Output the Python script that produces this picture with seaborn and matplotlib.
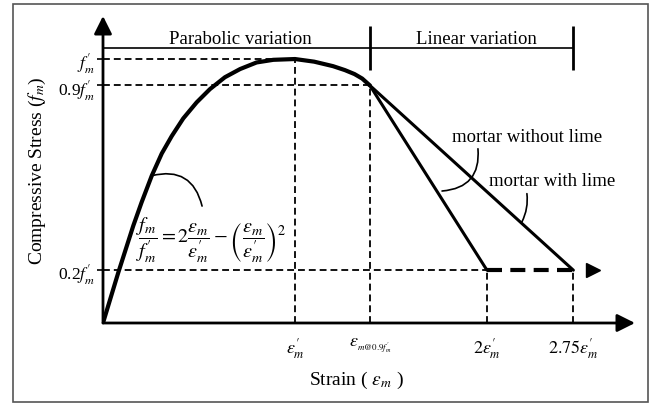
import matplotlib
matplotlib.use("Agg")
import matplotlib.pyplot as plt
from matplotlib.patches import Rectangle
import seaborn as sns

# strain in units of eps'_m, stress in units of f'_m (schematic)
curve_strain = [0.0, 0.080, 0.158, 0.201, 0.254, 0.306, 0.358, 0.418, 0.488, 0.557,
                0.635, 0.714, 0.800, 0.887, 1.0, 1.10, 1.198, 1.26, 1.31, 1.35, 1.39]
curve_stress = [0.0, 0.192, 0.369, 0.457, 0.558, 0.642, 0.708, 0.775, 0.836, 0.886,
                0.931, 0.962, 0.987, 0.997, 1.0, 0.990, 0.973, 0.958, 0.943, 0.926, 0.90]

without_lime_strain = [1.39, 2.0]
without_lime_stress = [0.90, 0.20]
with_lime_strain = [1.39, 2.45]
with_lime_stress = [0.90, 0.20]
residual_strain = [2.0, 2.48]
residual_stress = [0.20, 0.20]

eps_ticks = [1.0, 1.39, 2.0, 2.45]
eps_labels = [r"$\varepsilon^{\prime}_{m}$",
              r"$\varepsilon_{_{m@0.9f^{\prime}_{m}}}$",
              r"$2\varepsilon^{\prime}_{m}$",
              r"$2.75\varepsilon^{\prime}_{m}$"]
stress_ticks = [0.2, 0.9, 1.0]
stress_labels = [r"0.2$f^{\prime}_{m}$", r"0.9$f^{\prime}_{m}$", r"$f^{\prime}_{m}$"]

sns.set_theme(style="white")
plt.rcParams['font.family'] = ['Liberation Serif', 'DejaVu Serif']
plt.rcParams['mathtext.fontset'] = 'stix'
plt.rcParams['text.color'] = 'black'
plt.rcParams['axes.labelcolor'] = 'black'
plt.rcParams['xtick.color'] = 'black'
plt.rcParams['ytick.color'] = 'black'

fig = plt.figure(figsize=(6.54, 4.06), dpi=100)
ax = fig.add_axes([103 / 654, 82 / 406, 532 / 654, 307 / 406])
ax.set_xlim(0, 2.771)
ax.set_ylim(0, 1.163)
for s in ax.spines.values():
    s.set_visible(False)

# axes with arrows
arrow = dict(arrowstyle='-|>,head_length=0.9,head_width=0.45', lw=2, color='black',
             shrinkA=0, shrinkB=0)
ax.annotate("", xy=(1, 0), xytext=(0, 0), xycoords='axes fraction', arrowprops=arrow)
ax.annotate("", xy=(0, 1), xytext=(0, 0), xycoords='axes fraction', arrowprops=arrow)

# stress-strain curve
sns.lineplot(x=curve_strain, y=curve_stress, sort=False, color='black', lw=3, ax=ax)
sns.lineplot(x=without_lime_strain, y=without_lime_stress, sort=False, color='black', lw=2.2, ax=ax)
sns.lineplot(x=with_lime_strain, y=with_lime_stress, sort=False, color='black', lw=2.2, ax=ax)
ax.plot(residual_strain, residual_stress, color='black', lw=3, linestyle=(0, (3.6, 2.0)))
ax.plot([residual_strain[-1] + 0.07], [residual_stress[-1]], marker='>', color='black',
        markersize=10, clip_on=False)

# dashed guide lines
thin = dict(color='black', lw=1.3, linestyles=[(0, (3.8, 2.2))])
ax.hlines(stress_ticks[2], 0, eps_ticks[0], **thin)
ax.hlines(stress_ticks[1], 0, eps_ticks[1], **thin)
ax.hlines(stress_ticks[0], 0, eps_ticks[2], **thin)
ax.vlines(eps_ticks[0], 0, stress_ticks[2], **thin)
ax.vlines(eps_ticks[1], 0, stress_ticks[1], **thin)
ax.vlines(eps_ticks[2], 0, stress_ticks[0], **thin)
ax.vlines(eps_ticks[3], 0, stress_ticks[0], **thin)

# region bar on top
ax.plot([0, eps_ticks[3]], [1.042, 1.042], color='black', lw=1.2)
ax.vlines([eps_ticks[1], eps_ticks[3]], 0.958, 1.125, color='black', lw=2)
ax.text(0.714, 1.078, "Parabolic variation", ha='center', va='center', fontsize=13.5)
ax.text(1.943, 1.078, "Linear variation", ha='center', va='center', fontsize=13.5)

# labels on the branches
ax.text(2.208, 0.705, "mortar without lime", ha='center', va='center', fontsize=13.5)
ax.text(2.339, 0.538, "mortar with lime", ha='center', va='center', fontsize=13.5)
ax.annotate("", xy=(1.766, 0.50), xytext=(1.953, 0.66),
            arrowprops=dict(arrowstyle='-', lw=1.2, color='black',
                            connectionstyle='arc3,rad=-0.5', shrinkA=0, shrinkB=0))
ax.annotate("", xy=(2.182, 0.383), xytext=(2.208, 0.49),
            arrowprops=dict(arrowstyle='-', lw=1.2, color='black',
                            connectionstyle='arc3,rad=-0.15', shrinkA=0, shrinkB=0))

# equation and its leader
ax.text(0.565, 0.318,
        r"$\dfrac{f_m}{f^{\prime}_m} = 2\dfrac{\varepsilon_m}{\varepsilon^{\prime}_m}"
        r" - \left(\dfrac{\varepsilon_m}{\varepsilon^{\prime}_m}\right)^2$",
        ha='center', va='center', fontsize=14.5)
ax.annotate("", xy=(0.254, 0.558), xytext=(0.516, 0.443),
            arrowprops=dict(arrowstyle='-', lw=1.2, color='black',
                            connectionstyle='arc3,rad=0.5', shrinkA=0, shrinkB=0))

# ticks and axis labels
ax.set_xticks(eps_ticks)
ax.set_xticklabels(eps_labels, fontsize=13)
ax.set_yticks(stress_ticks)
ax.set_yticklabels(stress_labels, fontsize=12.5)
ax.tick_params(axis='x', length=0, pad=9)
ax.tick_params(axis='y', length=4, width=1.2, direction='out', pad=2, left=True)
ax.set_xlabel(r"Strain ( $\varepsilon_m$ )", fontsize=14)
ax.set_ylabel(r"Compressive Stress ($f_m$)", fontsize=14)
ax.xaxis.set_label_coords(0.477, -0.15)
ax.yaxis.set_label_coords(-0.104, 0.498)
ax.grid(False)

# frame around the figure
fig.patches.append(Rectangle((13 / 654, 3 / 406), 635 / 654, 398 / 406,
                             transform=fig.transFigure, fill=False,
                             edgecolor='#555555', lw=1.2))

fig.savefig("out.png", dpi=100)
